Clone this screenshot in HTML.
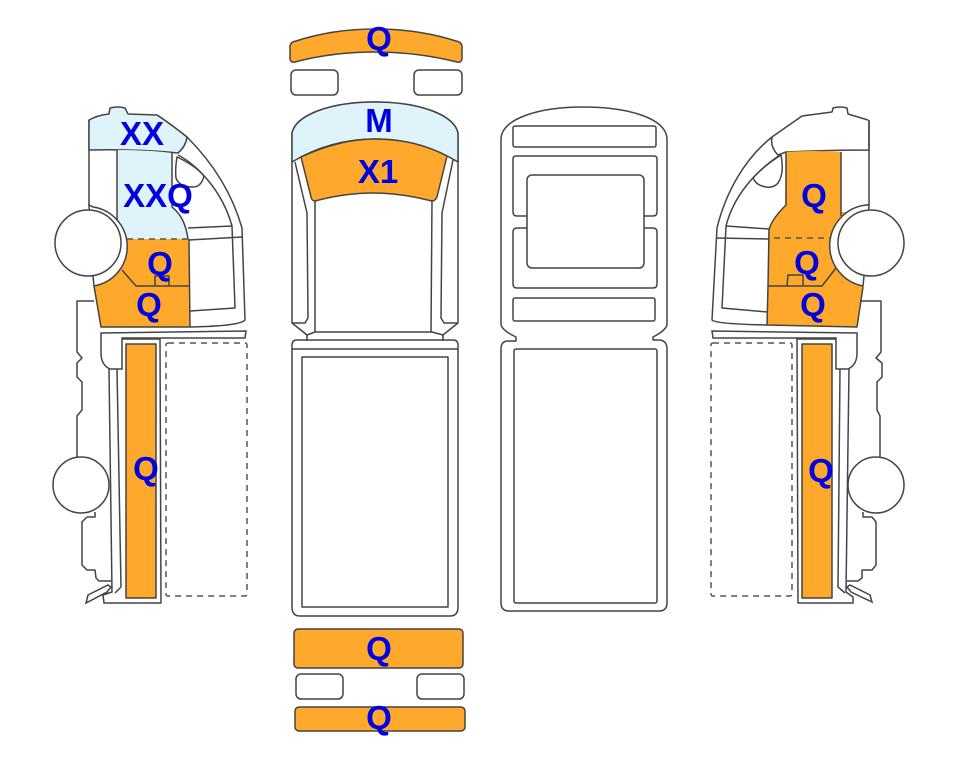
<!DOCTYPE html>
<html><head><meta charset="utf-8"><style>
html,body{margin:0;padding:0;background:#fff}
svg{display:block}
text{font-family:"Liberation Sans",sans-serif;font-weight:bold;font-size:33px;fill:#0000e0;text-anchor:middle}
.l{fill:none;stroke:#444;stroke-width:1.5;stroke-linejoin:round}
.w{fill:#fff;stroke:#444;stroke-width:1.5}
.o{fill:#ffa92c;stroke:#444;stroke-width:1.5;stroke-linejoin:round}
.b{fill:#dff3fb;stroke:#444;stroke-width:1.5;stroke-linejoin:round}
.d{fill:none;stroke:#555;stroke-width:1.5;stroke-dasharray:6 5}
</style></head><body>
<svg width="963" height="768" viewBox="0 0 963 768" xmlns="http://www.w3.org/2000/svg">
<rect width="963" height="768" fill="#fff"/>

<!-- LEFT SIDE VIEW -->
<path class="l" d="M157 115C168 122 178 130 187 137C213 163 232 193 242 228L245 320Q240 326 190 327"/>
<path class="l" d="M89 120V205L93 207"/>
<path class="b" d="M89 150V120Q98 115 109 114L110 108Q118 106 125 108L128 114L157 115Q172 125 187 137Q186 146 178 153Q140 149 89 150Z"/>
<path style="fill:#dff3fb;stroke:none" d="M117 150Q150 150 172 153V207Q185 217 188 239H122L117 218Z"/>
<path class="l" d="M117 150V222M172 153V207Q185 217 188 239"/>
<path style="fill:#ffa92c;stroke:none" d="M110 239H189L190 327H101L94 286Z"/>
<path class="l" d="M189 239L190 327H101L94 286"/>
<path class="d" d="M127 239H189"/>
<path class="w" d="M93 207A40 40 0 0 1 94 286L93 276L89 205Z"/>
<circle class="w" cx="88" cy="243" r="33"/>
<path class="l" d="M122 270L136 286H190M155 286V276H169V286"/>
<path class="l" d="M178 155C197 165 222 190 232 226L235 308L190 311M188 228L232 226M189 240L242 237"/>
<path class="l" d="M177 157C190 163 198 169 204 176C202 184 198 187 193 187C184 187 178 184 176 178C175 170 176 163 177 157Z"/>
<path class="l" d="M94 301H77V352L82 358L77 363V377L82 382V410L77 416V457"/>
<circle class="w" cx="81" cy="485" r="28"/>
<path class="l" d="M95 512V517H87L82 522V565L87 570H95L96 578L99 581H111"/>
<path class="l" d="M122 339H160L161 603H104L103 595L112 592L109 369"/>
<path class="w" d="M101 333L246 331L245 338H122V369H110Q101 365 101 353Z"/>
<path class="l" d="M117 369L121 587L115 593"/>
<path class="w" d="M86 603L88 595L108 585L111 587L107 592Z"/>
<rect class="o" x="126" y="344" width="30" height="254"/>
<rect class="d" x="166" y="343" width="81" height="253" rx="2"/>

<!-- CENTER VIEW -->
<path class="o" d="M290 47Q290 42 296 41C345 25 405 25 456 41Q462 42 462 47V58Q462 63 457 62C405 48.700 345 48.700 295 62Q290 63 290 58Z"/>
<rect class="w" x="291" y="70" width="47" height="25" rx="5"/>
<rect class="w" x="414" y="70" width="48" height="25" rx="5"/>
<path class="l" d="M292 133C296 115 330 102 375 102C420 102 454 115 458 133V323L443 335L432 332H315L307 335L292 323Z"/>
<path class="b" d="M292 162V133C296 115 330 102 375 102C420 102 454 115 458 133V162Q420 139 375 139Q330 139 292 162Z"/>
<path class="o" d="M301 157Q340 139 375 139Q415 139 447 156L437 197Q435 201 432 201Q400 193 373 193Q345 193 315 201Q312 201 311 197Z"/>
<path class="l" d="M315 201V332M432 200L431 332"/>
<path class="l" d="M295 162L307 213L308 318L305 323H292M453 160L442 213L441 318L444 323H458"/>
<path class="l" d="M307 335V341M443 335V341"/>
<path class="l" d="M297 340H453Q458 340 458 345V607Q458 616 450 616H300Q292 616 292 607V345Q292 340 297 340ZM292 349H458"/>
<rect class="l" x="302" y="357" width="146" height="250"/>
<rect class="o" x="294" y="629" width="169" height="39" rx="4"/>
<rect class="w" x="296" y="674" width="47" height="25" rx="5"/>
<rect class="w" x="417" y="674" width="47" height="25" rx="5"/>
<rect class="o" x="295" y="707" width="170" height="24" rx="4"/>

<!-- THIRD VIEW -->
<path class="l" d="M501 138C503 118 540 107 583 107C628 107 665 118 667 138V325Q665 331 653 337V340H660Q667 341 667 349V603Q667 611 659 611H509Q501 611 501 603V349Q501 341 508 341H516V337Q503 331 501 325Z"/>
<rect class="l" x="513" y="126" width="143" height="21" rx="2"/>
<path class="l" d="M527 216H517Q513 216 513 212V159Q513 156 516 156H654Q657 156 657 159V212Q657 216 653 216H644"/>
<path class="l" d="M527 228H517Q513 228 513 232V284Q513 288 517 288H653Q657 288 657 284V232Q657 228 653 228H644"/>
<rect class="l" x="527" y="175" width="117" height="93" rx="5"/>
<rect class="l" x="513" y="298" width="142" height="23" rx="2"/>
<rect class="l" x="514" y="349" width="143" height="254" rx="2"/>

<!-- RIGHT SIDE VIEW -->
<path class="l" d="M869 120V150M868 120L848 114L847 108Q840 106 833 108L832 112L802 116L772 137C743 160 725 195 717 228L712 320Q716 324 767 325"/>
<path class="l" d="M869 120V205L866 205M869 150Q830 150 786 152L778 155Q770 147 772 137"/>
<path style="fill:#ffa92c;stroke:none" d="M786 152Q815 150 841 152V212H855L863 287L857 327L767 325L768 286L769 230Q771 220 785 205Z"/>
<path class="l" d="M786 152V205Q771 220 769 230L768 286L767 325L857 327L863 287M841 152V216"/>
<path class="d" d="M774 238H830"/>
<path class="w" d="M866 205A41 41 0 0 0 863 286L864 276L869 205Z"/>
<circle class="w" cx="871" cy="243" r="33"/>
<path class="l" d="M836 268L822 286H768M787 286L788 275H803V286"/>
<path class="l" d="M780 155C753 173 733 198 726 226L722 308L767 312M769 229L726 226M769 239L716 238"/>
<path class="l" d="M781 155C783 167 783 175 778 183C774 188 767 188 762 186C758 185 755 182 753 178C760 170 770 162 781 155Z"/>
<path class="l" d="M860 301H881V352L876 358L882 363V377L877 382V410L880 416V457"/>
<circle class="w" cx="876" cy="485" r="28"/>
<path class="l" d="M863 512V517H872L876 522V565L872 570H862L862 578L858 581H847"/>
<path class="l" d="M836 339H797L798 603H853V597L846 592L849 369"/>
<path class="w" d="M857 333L712 331L713 338H836V369H848Q857 365 857 353Z"/>
<path class="l" d="M840 369L838 587L845 593"/>
<path class="w" d="M872 602L870 595L850 585L847 587L851 592Z"/>
<rect class="o" x="802" y="344" width="30" height="254"/>
<rect class="d" x="711" y="343" width="81" height="253" rx="2"/>

<!-- LABELS -->
<text x="379" y="50">Q</text>
<text x="379" y="132">M</text>
<text x="378" y="183">X1</text>
<text x="379" y="660">Q</text>
<text x="379" y="729">Q</text>
<text x="142" y="145">XX</text>
<text x="158" y="207">XXQ</text>
<text x="160" y="275">Q</text>
<text x="149" y="316">Q</text>
<text x="146" y="480">Q</text>
<text x="814" y="207">Q</text>
<text x="807" y="274">Q</text>
<text x="813" y="316">Q</text>
<text x="821" y="482">Q</text>
</svg>
</body></html>
